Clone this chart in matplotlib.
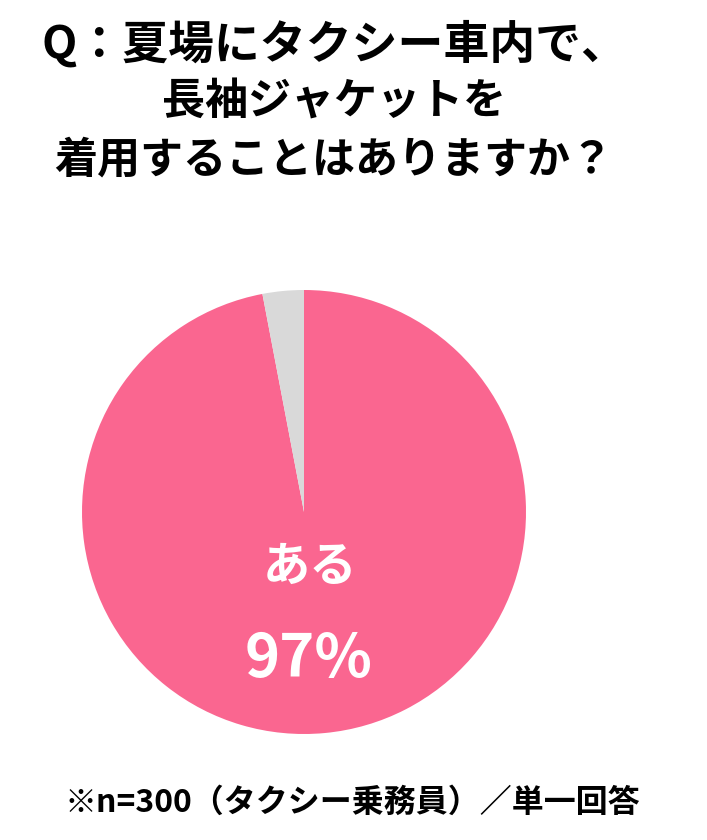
import matplotlib
matplotlib.use("Agg")
import matplotlib.pyplot as plt

plt.rcParams['font.family'] = ['Noto Sans CJK JP', 'DejaVu Sans']

# data
labels = ["ある", "ない"]
values = [97, 3]
colors = ["#FA6690", "#D9D9D9"]
title_lines = ["Q：夏場にタクシー車内で、", "長袖ジャケットを", "着用することはありますか？"]
note = "※n=300（タクシー乗務員）／単一回答"

W, H = 707, 840
fig = plt.figure(figsize=(W / 100, H / 100), dpi=100)

# pie axes, center ~(304, 512) px, radius ~222 px
cx, cy, r = 304, 512, 222
ax = fig.add_axes([(cx - r) / W, (H - cy - r) / H, 2 * r / W, 2 * r / H])
ax.pie(values, colors=colors, startangle=90, counterclock=False,
       wedgeprops=dict(linewidth=0))
ax.set_xlim(-1, 1)
ax.set_ylim(-1, 1)
ax.set_aspect("equal")
ax.axis("off")

# label of the big slice
fig.text(310 / W, 1 - 567 / H, labels[0], color="white", fontsize=34,
         fontweight="bold", ha="center", va="center")
fig.text(309 / W, 1 - 660 / H, f"{values[0]}%", color="white", fontsize=43,
         fontweight="bold", ha="center", va="center")

# title
for y, line, fs in zip([45, 102, 160], title_lines, [33, 31, 31]):
    fig.text(334 / W, 1 - y / H, line, fontsize=fs, fontweight="bold",
             ha="center", va="center")

fig.text(352 / W, 1 - 803 / H, note, fontsize=23, fontweight="bold",
         ha="center", va="center")

fig.savefig("out.png", dpi=100)
